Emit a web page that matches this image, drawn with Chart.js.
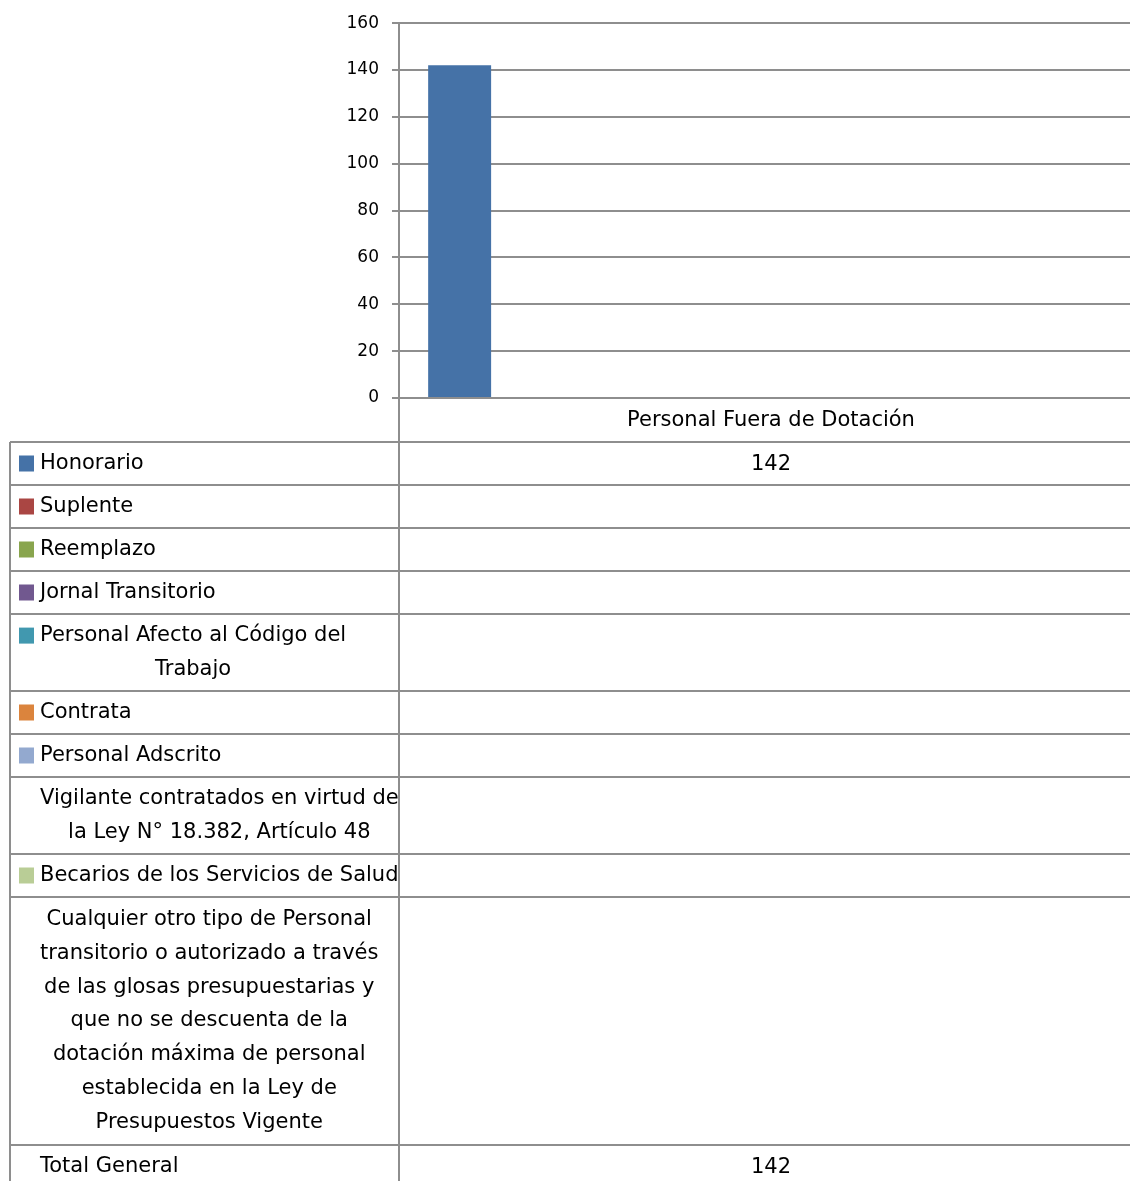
<!DOCTYPE html>
<html>
<head>
<meta charset="utf-8">
<script src="https://cdn.jsdelivr.net/npm/chart.js@4/dist/chart.umd.min.js"></script>
<style>
    html, body { margin: 0; padding: 0; background: #fff; overflow: hidden; }
    #wrap { position: absolute; left: 0; top: 0; width: 1145px; height: 1181px; }
</style>
</head>
<body>
<div id="wrap"><canvas id="staffChart" width="1145" height="1181"></canvas></div>
<script>
// Categories and series
const categories = ['Personal Fuera de Dotación'];
const seriesNames = [
    'Honorario',
    'Suplente',
    'Reemplazo',
    'Jornal Transitorio',
    'Personal Afecto al Código del Trabajo',
    'Contrata',
    'Personal Adscrito',
    'Vigilante contratados en virtud de la Ley N° 18.382, Artículo 48',
    'Becarios de los Servicios de Salud',
    'Cualquier otro tipo de Personal transitorio o autorizado a través de las glosas presupuestarias y que no se descuenta de la dotación máxima de personal establecida en la Ley de Presupuestos Vigente'
];
// one value per series (single category), null = no data
const seriesValues = [142, null, null, null, null, null, null, null, null, null];
const totalLabel = 'Total General';
const yTicks = { min: 0, max: 160, step: 20 };

// fill colours per series (null = no legend key)
const seriesColors = ['#4572A7', '#AA4643', '#89A54E', '#71588F', '#4198AF',
    '#DB843D', '#93A9CF', null, '#B9CD96', null];

const FONT = '"DejaVu Sans", Verdana, sans-serif';
const LINE_COLOR = '#8e8e8e';

/**
 * Break a label into lines that fit maxWidth
 */
function wrapText(ctx, text, maxWidth) {
    const words = text.split(' ');
    const lines = [];
    let line = '';
    words.forEach(word => {
        const test = line ? line + ' ' + word : word;
        if (line && ctx.measureText(test).width > maxWidth) {
            lines.push(line);
            line = word;
        } else {
            line = test;
        }
    });
    if (line) lines.push(line);
    return lines;
}

/**
 * Data table under the plot (legend keys + values)
 */
const dataTablePlugin = {
    id: 'dataTable',
    afterDraw(chart) {
        const ctx = chart.ctx;
        const area = chart.chartArea;
        const xScale = chart.scales.x;
        const tableLeft = 10;
        const textLeft = 40;
        const lineH = 33.8;
        const bottom = chart.height;

        ctx.save();
        ctx.font = '21px ' + FONT;
        ctx.fillStyle = '#000';
        ctx.textBaseline = 'middle';

        // header row with category label
        const headerH = 44;
        ctx.textAlign = 'center';
        categories.forEach((cat, i) => {
            ctx.fillText(cat, xScale.getPixelForValue(i), area.bottom + headerH / 2 + 1);
        });

        const total = seriesValues.reduce((sum, v) => sum + (v || 0), 0);
        const rows = seriesNames.map((name, i) => ({
            label: name, color: seriesColors[i], value: seriesValues[i]
        }));
        rows.push({ label: totalLabel, color: null, value: total });

        let top = area.bottom + headerH;
        const hLines = [top];

        rows.forEach(row => {
            const lines = wrapText(ctx, row.label, 368);
            const rowH = Math.round(8.5 + 34.2 * lines.length);
            const blockW = Math.max(...lines.map(l => ctx.measureText(l).width));
            const firstY = top + (rowH - lines.length * lineH) / 2 + lineH / 2;

            if (row.color) {
                ctx.fillStyle = row.color;
                ctx.fillRect(19, firstY - 8, 15, 16);
                ctx.fillStyle = '#000';
            }

            ctx.textAlign = 'center';
            lines.forEach((l, k) => {
                ctx.fillText(l, textLeft + blockW / 2, firstY + k * lineH);
            });

            if (row.value !== null && row.value !== undefined) {
                ctx.fillText(String(row.value), xScale.getPixelForValue(0), top + rowH / 2 + 1);
            }

            top += rowH;
            hLines.push(top);
        });

        // grid lines of the table
        ctx.strokeStyle = LINE_COLOR;
        ctx.lineWidth = 2;
        ctx.beginPath();
        hLines.forEach(y => {
            ctx.moveTo(tableLeft, y);
            ctx.lineTo(area.right, y);
        });
        ctx.moveTo(tableLeft, hLines[0]);
        ctx.lineTo(tableLeft, bottom);
        ctx.moveTo(area.left, area.bottom);
        ctx.lineTo(area.left, bottom);
        ctx.moveTo(area.right, area.bottom);
        ctx.lineTo(area.right, bottom);
        ctx.stroke();
        ctx.restore();
    }
};

const datasets = seriesNames.map((name, i) => ({
    label: name,
    data: [seriesValues[i]],
    backgroundColor: seriesColors[i] || 'rgba(0,0,0,0)',
    borderWidth: 0,
    categoryPercentage: 0.93,
    barPercentage: 0.91
}));

const ctx = document.getElementById('staffChart').getContext('2d');

new Chart(ctx, {
    type: 'bar',
    data: {
        labels: categories,
        datasets: datasets
    },
    options: {
        responsive: false,
        animation: false,
        layout: {
            autoPadding: false,
            padding: { top: 20, bottom: 783, left: 0, right: 2 }
        },
        plugins: {
            legend: { display: false },
            tooltip: { enabled: false }
        },
        scales: {
            x: {
                display: false
            },
            y: {
                min: yTicks.min,
                max: yTicks.max,
                afterFit: scale => { scale.width = 399; },
                grid: {
                    color: LINE_COLOR,
                    lineWidth: 2,
                    tickLength: 7
                },
                border: {
                    display: true,
                    color: LINE_COLOR,
                    width: 2
                },
                ticks: {
                    stepSize: yTicks.step,
                    padding: 13,
                    color: '#000',
                    font: { family: FONT, size: 17 }
                }
            }
        }
    },
    plugins: [dataTablePlugin]
});
</script>
</body>
</html>
